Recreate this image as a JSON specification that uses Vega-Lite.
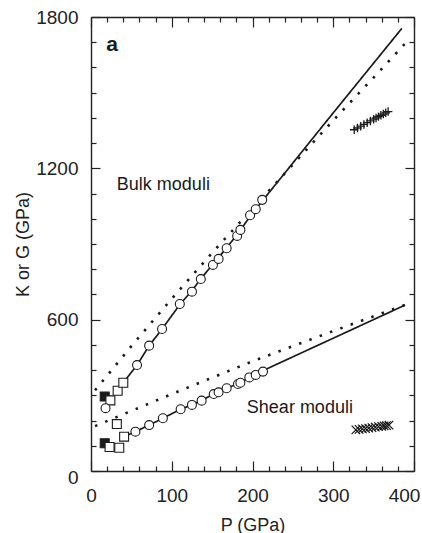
{
  "$schema": "https://vega.github.io/schema/vega-lite/v6.json",
  "width": 323,
  "height": 454,
  "autosize": {"type": "none"},
  "padding": {"left": 91, "top": 17, "right": 8, "bottom": 62},
  "background": "white",
  "config": {
    "view": {"stroke": null},
    "font": "Liberation Sans",
    "axis": {
      "grid": false,
      "domainColor": "#222",
      "domainWidth": 1.4,
      "tickColor": "#222",
      "tickWidth": 1.2,
      "labelColor": "#222",
      "labelFontSize": 19,
      "labelOverlap": false,
      "labelFlush": false,
      "titleColor": "#222",
      "titleFontSize": 18,
      "titleFontWeight": "normal",
      "format": "d"
    }
  },
  "datasets": {
    "lines": [
      {"modulus": "bulk", "curve": "fit", "P": 35, "V": 330},
      {"modulus": "bulk", "curve": "fit", "P": 57, "V": 420},
      {"modulus": "bulk", "curve": "fit", "P": 72, "V": 497},
      {"modulus": "bulk", "curve": "fit", "P": 88, "V": 563},
      {"modulus": "bulk", "curve": "fit", "P": 110, "V": 660},
      {"modulus": "bulk", "curve": "fit", "P": 125, "V": 715},
      {"modulus": "bulk", "curve": "fit", "P": 136, "V": 762},
      {"modulus": "bulk", "curve": "fit", "P": 151, "V": 820},
      {"modulus": "bulk", "curve": "fit", "P": 168, "V": 885},
      {"modulus": "bulk", "curve": "fit", "P": 184, "V": 950},
      {"modulus": "bulk", "curve": "fit", "P": 197, "V": 1010},
      {"modulus": "bulk", "curve": "fit", "P": 212, "V": 1070},
      {"modulus": "bulk", "curve": "fit", "P": 300, "V": 1420},
      {"modulus": "bulk", "curve": "fit", "P": 385, "V": 1755},
      {"modulus": "bulk", "curve": "model", "P": 5, "V": 320},
      {"modulus": "bulk", "curve": "model", "P": 50, "V": 495},
      {"modulus": "bulk", "curve": "model", "P": 100, "V": 683},
      {"modulus": "bulk", "curve": "model", "P": 150, "V": 865},
      {"modulus": "bulk", "curve": "model", "P": 200, "V": 1040},
      {"modulus": "bulk", "curve": "model", "P": 250, "V": 1215},
      {"modulus": "bulk", "curve": "model", "P": 300, "V": 1390},
      {"modulus": "bulk", "curve": "model", "P": 350, "V": 1560},
      {"modulus": "bulk", "curve": "model", "P": 392, "V": 1705},
      {"modulus": "shear", "curve": "fit", "P": 38, "V": 132},
      {"modulus": "shear", "curve": "fit", "P": 55, "V": 156},
      {"modulus": "shear", "curve": "fit", "P": 72, "V": 182},
      {"modulus": "shear", "curve": "fit", "P": 89, "V": 209},
      {"modulus": "shear", "curve": "fit", "P": 111, "V": 245},
      {"modulus": "shear", "curve": "fit", "P": 125, "V": 262},
      {"modulus": "shear", "curve": "fit", "P": 137, "V": 280},
      {"modulus": "shear", "curve": "fit", "P": 152, "V": 305},
      {"modulus": "shear", "curve": "fit", "P": 168, "V": 328},
      {"modulus": "shear", "curve": "fit", "P": 182, "V": 346},
      {"modulus": "shear", "curve": "fit", "P": 196, "V": 370},
      {"modulus": "shear", "curve": "fit", "P": 204, "V": 382},
      {"modulus": "shear", "curve": "fit", "P": 213, "V": 398},
      {"modulus": "shear", "curve": "fit", "P": 389, "V": 658},
      {"modulus": "shear", "curve": "model", "P": 5, "V": 178},
      {"modulus": "shear", "curve": "model", "P": 100, "V": 305},
      {"modulus": "shear", "curve": "model", "P": 200, "V": 435},
      {"modulus": "shear", "curve": "model", "P": 300, "V": 555},
      {"modulus": "shear", "curve": "model", "P": 390, "V": 660}
    ],
    "circles": [
      {"modulus": "bulk", "P": 18, "V": 249},
      {"modulus": "bulk", "P": 57, "V": 420},
      {"modulus": "bulk", "P": 72, "V": 497},
      {"modulus": "bulk", "P": 88, "V": 563},
      {"modulus": "bulk", "P": 110, "V": 662},
      {"modulus": "bulk", "P": 125, "V": 711},
      {"modulus": "bulk", "P": 136, "V": 761},
      {"modulus": "bulk", "P": 151, "V": 817},
      {"modulus": "bulk", "P": 158, "V": 841},
      {"modulus": "bulk", "P": 168, "V": 883},
      {"modulus": "bulk", "P": 181, "V": 932},
      {"modulus": "bulk", "P": 185, "V": 956},
      {"modulus": "bulk", "P": 197, "V": 1014},
      {"modulus": "bulk", "P": 204, "V": 1038},
      {"modulus": "bulk", "P": 212, "V": 1075},
      {"modulus": "shear", "P": 55, "V": 156},
      {"modulus": "shear", "P": 72, "V": 182},
      {"modulus": "shear", "P": 89, "V": 209},
      {"modulus": "shear", "P": 111, "V": 245},
      {"modulus": "shear", "P": 125, "V": 262},
      {"modulus": "shear", "P": 137, "V": 279},
      {"modulus": "shear", "P": 152, "V": 305},
      {"modulus": "shear", "P": 158, "V": 312},
      {"modulus": "shear", "P": 168, "V": 328},
      {"modulus": "shear", "P": 182, "V": 345},
      {"modulus": "shear", "P": 185, "V": 350},
      {"modulus": "shear", "P": 196, "V": 371},
      {"modulus": "shear", "P": 204, "V": 381},
      {"modulus": "shear", "P": 213, "V": 394}
    ],
    "squares": [
      {"modulus": "bulk", "source": "closed", "P": 17, "V": 295},
      {"modulus": "shear", "source": "closed", "P": 17, "V": 110},
      {"modulus": "bulk", "source": "open", "P": 24, "V": 280},
      {"modulus": "bulk", "source": "open", "P": 33, "V": 318},
      {"modulus": "bulk", "source": "open", "P": 40, "V": 350},
      {"modulus": "shear", "source": "open", "P": 23, "V": 95},
      {"modulus": "shear", "source": "open", "P": 35, "V": 92},
      {"modulus": "shear", "source": "open", "P": 32, "V": 186},
      {"modulus": "shear", "source": "open", "P": 41, "V": 136}
    ],
    "crosses": [
      {"modulus": "bulk", "P": 326, "V": 1353},
      {"modulus": "bulk", "P": 330, "V": 1360},
      {"modulus": "bulk", "P": 334, "V": 1367},
      {"modulus": "bulk", "P": 338, "V": 1374},
      {"modulus": "bulk", "P": 342, "V": 1381},
      {"modulus": "bulk", "P": 346, "V": 1388},
      {"modulus": "bulk", "P": 350, "V": 1395},
      {"modulus": "bulk", "P": 353, "V": 1400},
      {"modulus": "bulk", "P": 356, "V": 1405},
      {"modulus": "bulk", "P": 359, "V": 1410},
      {"modulus": "bulk", "P": 362, "V": 1415},
      {"modulus": "bulk", "P": 365, "V": 1420},
      {"modulus": "bulk", "P": 368, "V": 1425},
      {"modulus": "shear", "P": 328, "V": 163},
      {"modulus": "shear", "P": 332, "V": 165},
      {"modulus": "shear", "P": 336, "V": 167},
      {"modulus": "shear", "P": 340, "V": 168},
      {"modulus": "shear", "P": 344, "V": 170},
      {"modulus": "shear", "P": 348, "V": 172},
      {"modulus": "shear", "P": 352, "V": 174},
      {"modulus": "shear", "P": 356, "V": 176},
      {"modulus": "shear", "P": 360, "V": 177},
      {"modulus": "shear", "P": 363, "V": 179},
      {"modulus": "shear", "P": 366, "V": 180},
      {"modulus": "shear", "P": 369, "V": 182}
    ],
    "panel": [
      {"label": "a", "P": 19, "V": 1667}
    ],
    "labels": [
      {"label": "Bulk moduli", "P": 32, "V": 1114},
      {"label": "Shear moduli", "P": 193, "V": 230}
    ]
  },
  "layer": [
    {
      "data": {"name": "lines"},
      "mark": {"type": "line", "color": "#1a1a1a", "strokeCap": "butt"},
      "encoding": {
        "x": {
          "field": "P", "type": "quantitative",
          "scale": {"domain": [0, 400], "nice": false},
          "axis": {
            "orient": "bottom",
            "title": "P (GPa)",
            "values": [0, 20, 40, 60, 80, 100, 120, 140, 160, 180, 200, 220, 240, 260, 280, 300, 320, 340, 360, 380, 400],
            "labelExpr": "datum.value % 100 === 0 ? datum.label : ''",
            "labelOffset": {"condition": {"test": "datum.value === 400", "value": -10}, "value": 0},
            "tickSize": {"condition": {"test": "datum.value % 100 === 0", "value": -10}, "value": -5},
            "labelPadding": 25,
            "titlePadding": 6
          }
        },
        "y": {
          "field": "V", "type": "quantitative",
          "scale": {"domain": [0, 1800], "nice": false},
          "axis": {
            "orient": "left",
            "title": "K or G (GPa)",
            "values": [0, 100, 200, 300, 400, 500, 600, 700, 800, 900, 1000, 1100, 1200, 1300, 1400, 1500, 1600, 1700, 1800],
            "labelExpr": "datum.value % 600 === 0 ? datum.label : ''",
            "labelOffset": {"condition": {"test": "datum.value === 0", "value": 6}, "value": 0},
            "tickSize": {"condition": {"test": "datum.value % 600 === 0", "value": -9}, "value": -5},
            "labelPadding": 22,
            "titlePadding": 3
          }
        },
        "detail": {"field": "modulus"},
        "strokeDash": {
          "field": "curve", "type": "nominal",
          "scale": {"domain": ["fit", "model"], "range": [[1, 0], [2.5, 8.5]]},
          "legend": null
        },
        "strokeWidth": {
          "field": "curve", "type": "nominal",
          "scale": {"domain": ["fit", "model"], "range": [1.7, 2.6]},
          "legend": null
        }
      }
    },
    {
      "data": {"name": "squares"},
      "mark": {"type": "point", "shape": "square", "filled": true, "stroke": "#1a1a1a", "strokeWidth": 1.1, "size": 80, "opacity": 1},
      "encoding": {
        "x": {"field": "P", "type": "quantitative", "axis": null},
        "y": {"field": "V", "type": "quantitative", "axis": null},
        "fill": {
          "field": "source", "type": "nominal",
          "scale": {"domain": ["closed", "open"], "range": ["#1a1a1a", "white"]},
          "legend": null
        },
        "order": {"field": "source"}
      }
    },
    {
      "data": {"name": "circles"},
      "mark": {"type": "point", "shape": "circle", "filled": true, "fill": "white", "stroke": "#1a1a1a", "strokeWidth": 1.1, "size": 80, "opacity": 1},
      "encoding": {
        "x": {"field": "P", "type": "quantitative", "axis": null},
        "y": {"field": "V", "type": "quantitative", "axis": null}
      }
    },
    {
      "data": {"name": "crosses"},
      "mark": {"type": "point", "filled": false, "stroke": "#1a1a1a", "strokeWidth": 1.3, "size": 72, "opacity": 1},
      "encoding": {
        "x": {"field": "P", "type": "quantitative", "axis": null},
        "y": {"field": "V", "type": "quantitative", "axis": null},
        "shape": {
          "field": "modulus", "type": "nominal",
          "scale": {"domain": ["bulk", "shear"], "range": ["M0,-1L0,1M-1,0L1,0", "M-1,-1L1,1M-1,1L1,-1"]},
          "legend": null
        }
      }
    },
    {
      "data": {"name": "panel"},
      "mark": {"type": "text", "align": "left", "baseline": "alphabetic", "fontSize": 21, "fontWeight": "bold", "color": "#1a1a1a"},
      "encoding": {
        "x": {
          "field": "P", "type": "quantitative",
          "axis": {
            "orient": "top",
            "title": null,
            "labels": false,
            "values": [0, 20, 40, 60, 80, 100, 120, 140, 160, 180, 200, 220, 240, 260, 280, 300, 320, 340, 360, 380, 400],
            "tickSize": {"condition": {"test": "datum.value % 100 === 0", "value": -10}, "value": -5}
          }
        },
        "y": {
          "field": "V", "type": "quantitative",
          "axis": {
            "orient": "right",
            "title": null,
            "labels": false,
            "values": [0, 100, 200, 300, 400, 500, 600, 700, 800, 900, 1000, 1100, 1200, 1300, 1400, 1500, 1600, 1700, 1800],
            "tickSize": {"condition": {"test": "datum.value % 600 === 0", "value": -9}, "value": -5}
          }
        },
        "text": {"field": "label"}
      }
    },
    {
      "data": {"name": "labels"},
      "mark": {"type": "text", "align": "left", "baseline": "alphabetic", "fontSize": 18, "color": "#1a1a1a"},
      "encoding": {
        "x": {"field": "P", "type": "quantitative", "axis": null},
        "y": {"field": "V", "type": "quantitative", "axis": null},
        "text": {"field": "label"}
      }
    }
  ],
  "resolve": {"axis": {"x": "independent", "y": "independent"}}
}
